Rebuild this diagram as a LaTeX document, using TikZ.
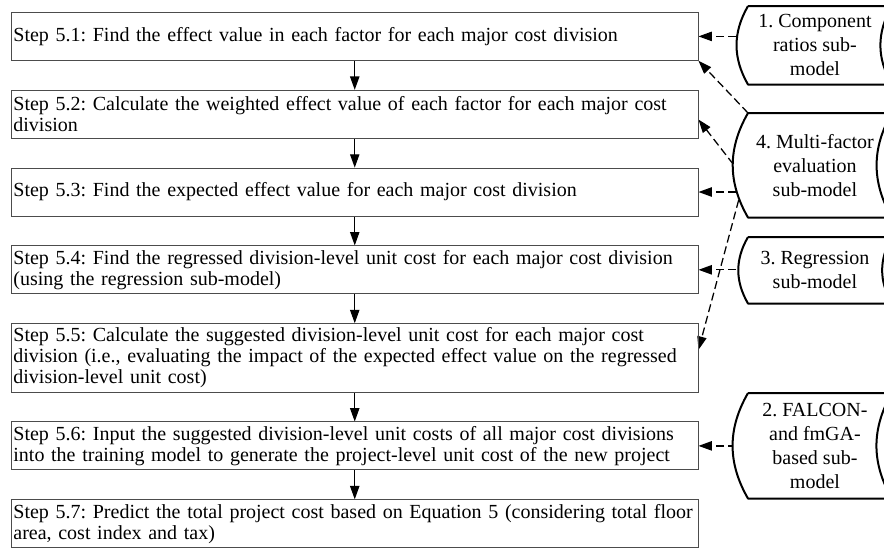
\documentclass[tikz,border=0pt]{standalone}
\usepackage{fontspec}
\setmainfont{Liberation Serif}
\usetikzlibrary{positioning,backgrounds,arrows.meta}

\begin{document}
\frenchspacing
\hyphenpenalty=10000
\begin{tikzpicture}[x=0.75pt,y=-0.75pt,
			step box/.style={draw=black!70,line width=0.6pt,inner xsep=1.5pt,inner ysep=3pt,
				text width=512pt,align=left,minimum height=36pt,
				font=\fontsize{15}{15.8}\selectfont},
			sub model/.style={anchor=north west,inner sep=0pt,minimum width=100pt,
				align=center,font=\fontsize{15}{18}\selectfont},
			model line/.style={draw=black,line width=1.5pt,fill=white,line join=round},
			flow/.style={-{Triangle[length=10pt,width=7pt]},line width=0.8pt},
			feed/.style={flow,line width=0.95pt,dash pattern=on 6pt off 3pt},
			node distance=21.75pt]
			\useasboundingbox (0,0) rectangle (884,547);
			% steps of the prediction
			\node[step box,anchor=north west] (s_1) at (11,12) {Step 5.1: Find the effect value in each factor for each major cost division};
			\node[step box] (s_2) [below=of s_1] {Step 5.2: Calculate the weighted effect value of each factor for each major cost division};
			\node[step box] (s_3) [below=of s_2] {Step 5.3: Find the expected effect value for each major cost division};
			\node[step box] (s_4) [below=of s_3] {Step 5.4: Find the regressed division-level unit cost for each major cost division (using the regression sub-model)};
			\node[step box] (s_5) [below=of s_4] {Step 5.5: Calculate the suggested division-level unit cost for each major cost division (i.e., evaluating the impact of the expected effect value on the regressed division-level unit cost)};
			\node[step box] (s_6) [below=of s_5] {Step 5.6: Input the suggested division-level unit costs of all major cost divisions into the training model to generate the project-level unit cost of the new project};
			\node[step box] (s_7) [below=of s_6] {Step 5.7: Predict the total project cost based on Equation 5 (considering total floor area, cost index and tax)};
			% sub-models
			\node[sub model,minimum height=58.5pt] (m_1) at (748,6) {1. Component\\ratios sub-\\model};
			\node[sub model,minimum height=78pt] (m_4) at (748,113) {4. Multi-factor\\evaluation\\sub-model};
			\node[sub model,minimum height=49.5pt] (m_3) at (748,237) {3. Regression\\sub-model};
			\node[sub model,minimum height=78.75pt] (m_2) at (748,393) {2. FALCON-\\and fmGA-\\based sub-\\model};
			\begin{scope}[on background layer]
				\foreach \i/\j in {1/2,2/3,3/4,4/5,5/6,6/7}
					\path[flow] (s_\i) edge (s_\j);
				\path[feed] (m_1.west |- s_1.east) edge (s_1.east)
					(m_4.north west) edge (s_1.south east)
					([yshift=-13.5pt]m_4.west) edge ([yshift=-4pt]s_2.east)
					(m_4.west |- s_3.east) edge (s_3.east)
					(m_4.west) edge ([yshift=6pt]s_5.east)
					(m_3.west |- s_4.east) edge (s_4.east)
					(m_2.west |- s_6.east) edge (s_6.east);
				\foreach \m in {m_1,m_2,m_3,m_4}
					\path[model line] (\m.north west) -- ([xshift=7.5pt]\m.north east) to[bend right=30] ([xshift=7.5pt]\m.south east)
						-- (\m.south west) to[bend left=30] (\m.north west);
			\end{scope}
		\end{tikzpicture}
\end{document}
